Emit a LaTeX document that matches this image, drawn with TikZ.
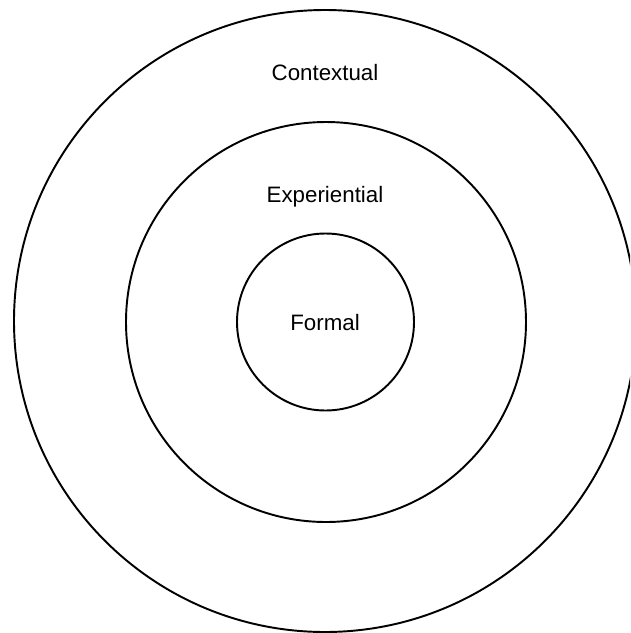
\documentclass[tikz,border=0pt]{standalone}
\usepackage{fontspec}
\setmainfont{Liberation Sans}
\usepackage{tikz}

\begin{document}
\begin{tikzpicture}[x=0.02cm,y=-0.02cm,
    ring/.style={draw,circle,line width=1.1pt,inner sep=0pt},
    lbl/.style={font=\fontsize{12.7}{15}\selectfont}]
  \clip (0,0) rectangle (630,633);
  \useasboundingbox (0,0) rectangle (630,633);
  \node[ring,minimum size=622*0.02cm] (contextual) at (325,321) {};
  \node[ring,minimum size=400*0.02cm] (experiential) at (326,322) {};
  \node[ring,minimum size=177*0.02cm] (formal) at (325.5,322) {};
  \node[lbl] (ctxlabel) at (325,73) {Contextual};
  \node[lbl] (explabel) at (325,197) {Experiential};
  \node[lbl] (formlabel) at (325,323) {Formal};
\end{tikzpicture}
\end{document}
